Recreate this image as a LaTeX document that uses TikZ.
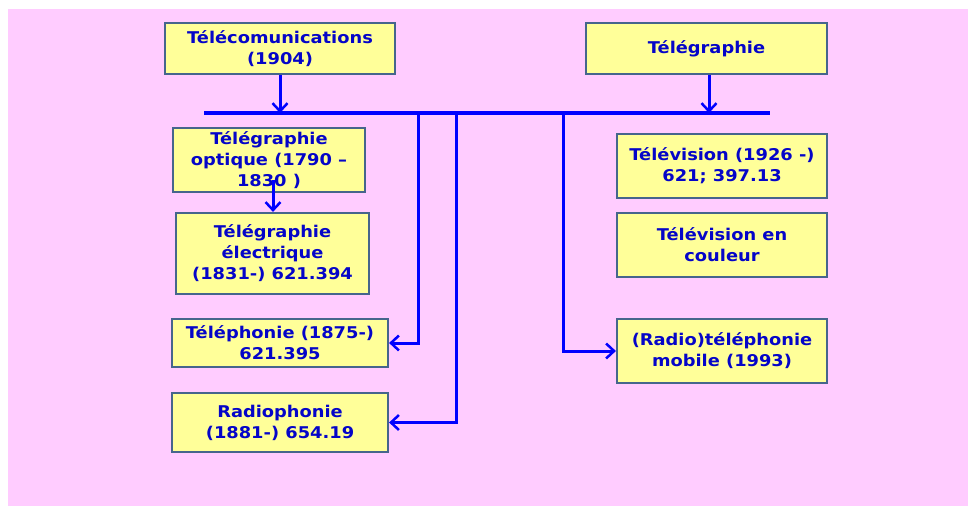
\documentclass[tikz,border=0pt]{standalone}
\usepackage{fontspec}
\setmainfont[FakeStretch=1.1]{DejaVu Sans}
\usetikzlibrary{arrows.meta}
\definecolor{bgpink}{HTML}{FFCCFF}
\definecolor{boxyellow}{HTML}{FFFF99}
\definecolor{boxedge}{HTML}{46658C}
\definecolor{txtblue}{HTML}{0505C8}
\definecolor{linkblue}{HTML}{0000FF}
\tikzset{
  box/.style={draw=boxedge, line width=2.2pt, fill=boxyellow, text=txtblue,
    font=\fontsize{16.2}{21}\selectfont\bfseries, align=center, inner sep=0pt},
  link/.style={draw=linkblue, line width=3pt, -{Straight Barb[length=8pt,width=15pt,line width=2.5pt]}},
  bar/.style={draw=linkblue, line width=4pt}
}
\begin{document}
\begin{tikzpicture}[x=1pt,y=-1pt]
\useasboundingbox (0,0) rectangle (968,506);
\fill[white] (0,0) rectangle (968,506);
\fill[bgpink] (8,9) rectangle (968,506);

\node[box, minimum width=230, minimum height=51] (tele) at (280,48.5) {Télécomunications\\(1904)};
\node[box, minimum width=241, minimum height=51] (telg) at (706.5,48.5) {Télégraphie};
\node[box, minimum width=192, minimum height=64] (opt) at (269,160) {Télégraphie\\optique (1790 –\\1830 )};
\node[box, minimum width=193, minimum height=81] (elec) at (272.5,253.5) {Télégraphie\\électrique\\(1831-) 621.394};
\node[box, minimum width=216, minimum height=48] (teleph) at (280,343) {Téléphonie (1875-)\\621.395};
\node[box, minimum width=216, minimum height=59] (radio) at (280,422.5) {Radiophonie\\(1881-) 654.19};
\node[box, minimum width=210, minimum height=64] (tv) at (722,166) {Télévision (1926 -)\\621; 397.13};
\node[box, minimum width=210, minimum height=64] (tvc) at (722,245) {Télévision en\\couleur};
\node[box, minimum width=210, minimum height=64] (mob) at (722,351) {(Radio)téléphonie\\mobile (1993)};

\coordinate (barL) at (204,113);
\coordinate (barR) at (770,113);
\coordinate (jTele) at (280,113);
\coordinate (jTelg) at (709,113);
\coordinate (jPh) at (418,113);
\coordinate (jRa) at (456,113);
\coordinate (jMo) at (563,113);
\coordinate (optOut) at (273,180);

\draw[bar] (barL) -- (barR);
\draw[link] (tele.south) -- (jTele);
\draw[link] (telg.south -| jTelg) -- (jTelg);
\draw[link] (optOut) -- (optOut |- elec.north);
\draw[link] (jPh) |- (teleph.east);
\draw[link] (jRa) |- (radio.east);
\draw[link] (jMo) |- (mob.west);
\end{tikzpicture}
\end{document}
